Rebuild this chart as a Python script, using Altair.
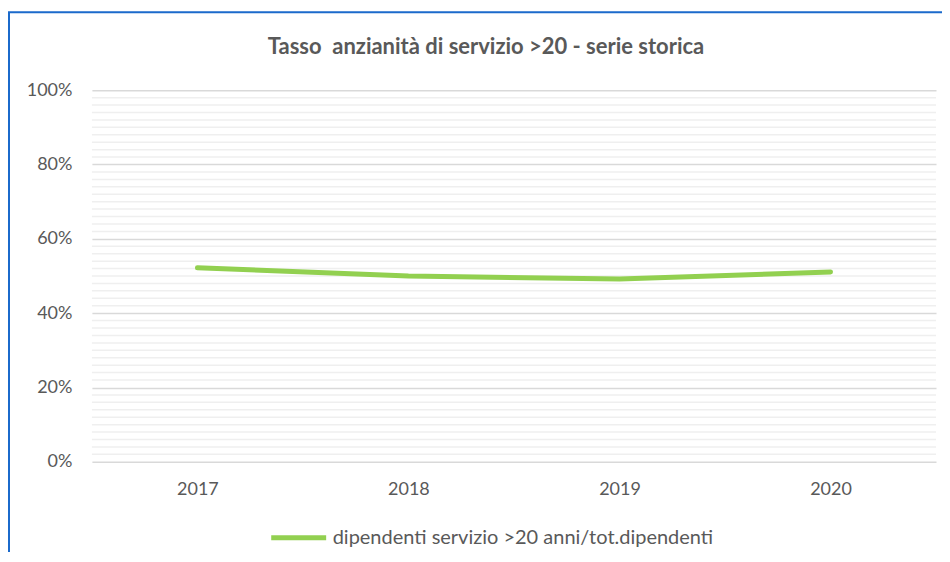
import altair as alt
import pandas as pd

title_text = "Tasso\u00a0 anzianità di servizio >20 - serie storica"
years = ["2017", "2018", "2019", "2020"]
values = [0.522, 0.500, 0.492, 0.511]
series_name = "dipendenti servizio >20 anni/tot.dipendenti"
major_ticks = [0, 0.2, 0.4, 0.6, 0.8, 1.0]
minor_ticks = [0.02, 0.04, 0.06, 0.08, 0.10, 0.12, 0.14, 0.16, 0.18,
               0.22, 0.24, 0.26, 0.28, 0.30, 0.32, 0.34, 0.36, 0.38,
               0.42, 0.44, 0.46, 0.48, 0.50, 0.52, 0.54, 0.56, 0.58,
               0.62, 0.64, 0.66, 0.68, 0.70, 0.72, 0.74, 0.76, 0.78,
               0.82, 0.84, 0.86, 0.88, 0.90, 0.92, 0.94, 0.96, 0.98]

W, H = 845, 372
FONT = "Lato"
GREY = "#595959"

df = pd.DataFrame({"year": years, "value": values, "series": [series_name] * len(years)})
minor_df = pd.DataFrame({"v": minor_ticks})

yscale = alt.Scale(domain=[0, 1], nice=False, zero=True)

minor = alt.Chart(minor_df).mark_rule(color="#efefef", strokeWidth=1.5).encode(
    y=alt.Y("v:Q", scale=yscale,
            axis=alt.Axis(values=major_ticks, format=".0%", title=None,
                          grid=True, gridColor="#d9d9d9", gridWidth=1.5,
                          domain=False, ticks=False, tickSize=0,
                          labelFont=FONT, labelFontSize=18, labelColor=GREY,
                          labelPadding=20)),
)

line = alt.Chart(df).mark_line(strokeWidth=5, strokeCap="round", strokeJoin="round").encode(
    x=alt.X("year:O", sort=years,
            axis=alt.Axis(title=None, labelAngle=0, domain=False, ticks=False, tickSize=0,
                          labelFont=FONT, labelFontSize=18, labelColor=GREY,
                          labelPadding=19, grid=False)),
    y=alt.Y("value:Q", scale=yscale),
    color=alt.Color("series:N",
                    scale=alt.Scale(domain=[series_name], range=["#92D050"]),
                    legend=alt.Legend(title=None, orient="none", legendX=177, legendY=418,
                                      symbolType="stroke", symbolSize=3025,
                                      symbolStrokeWidth=5, labelFont=FONT,
                                      labelFontSize=20, labelColor=GREY,
                                      labelOffset=4, labelLimit=800)),
)

title = alt.Chart(pd.DataFrame({"t": [title_text]})).mark_text(
    font=FONT, fontSize=22, fontWeight="bold", color=GREY,
    align="center", baseline="alphabetic",
).encode(text="t:N", x=alt.value(W / 2 - 28), y=alt.value(-36))

frame = alt.Chart(pd.DataFrame({"a": [0]})).mark_rect(
    fill=None, stroke="#1B6ACB", strokeWidth=2
).encode(
    x=alt.value(-83), x2=alt.value(W + 60),
    y=alt.value(-78), y2=alt.value(H + 300),
)

chart = alt.layer(minor, line, title, frame).properties(
    width=W, height=H,
    background="white",
    autosize=alt.AutoSizeParams(type="none"),
    padding={"left": 84, "top": 82, "right": 6, "bottom": 90},
).configure_view(strokeOpacity=0)

chart.save("out.html", embed_options={"renderer": "svg", "actions": False})
